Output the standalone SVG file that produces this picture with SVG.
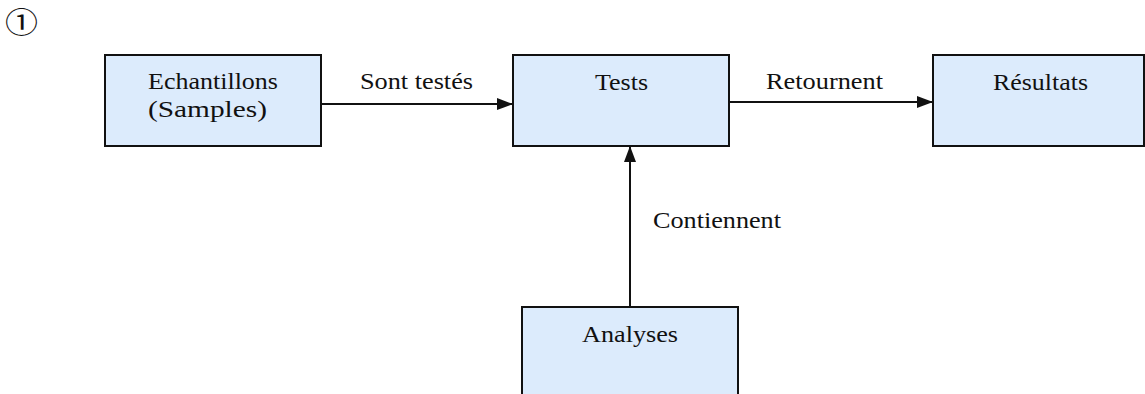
<svg xmlns="http://www.w3.org/2000/svg" width="1145" height="394" viewBox="0 0 1145 394">
<style>
.box{fill:#dcebfc;stroke:#111;stroke-width:2}
.t{font-family:"Liberation Serif","Times New Roman",serif;font-size:24px;fill:#111}
.edge{stroke:#111;stroke-width:2;fill:none;marker-end:url(#ah)}
</style>
<defs>
<marker id="ah" markerUnits="userSpaceOnUse" markerWidth="16" markerHeight="12" refX="16" refY="6" orient="auto">
<path d="M0,0 L16,6 L0,12 Z" fill="#111"/>
</marker>
</defs>
<rect width="1145" height="394" fill="#fff"/>
<text x="5" y="33" font-family="Noto Sans CJK JP, sans-serif" font-size="28" textLength="33" lengthAdjust="spacingAndGlyphs" fill="#111">①</text>
<g id="connectors">
<line class="edge" x1="321" y1="104" x2="513" y2="104"/>
<line class="edge" x1="729" y1="102" x2="933" y2="102"/>
<line class="edge" x1="630" y1="307" x2="630" y2="146"/>
<text class="t" x="360" y="89" textLength="113" lengthAdjust="spacingAndGlyphs">Sont testés</text>
<text class="t" x="766" y="89" textLength="117" lengthAdjust="spacingAndGlyphs">Retournent</text>
<text class="t" x="653" y="228" textLength="128" lengthAdjust="spacingAndGlyphs">Contiennent</text>
</g>
<g id="echantillons">
<rect class="box" x="105" y="55" width="216" height="91"/>
<text class="t" x="148" y="89" textLength="130" lengthAdjust="spacingAndGlyphs">Echantillons</text>
<text class="t" x="148" y="117" textLength="119" lengthAdjust="spacingAndGlyphs">(Samples)</text>
</g>
<g id="tests">
<rect class="box" x="513" y="55" width="216" height="91"/>
<text class="t" x="595" y="90" textLength="53" lengthAdjust="spacingAndGlyphs">Tests</text>
</g>
<g id="resultats">
<rect class="box" x="933" y="55" width="211" height="91"/>
<text class="t" x="993" y="90" textLength="95" lengthAdjust="spacingAndGlyphs">Résultats</text>
</g>
<g id="analyses">
<rect class="box" x="522" y="307" width="216" height="100"/>
<text class="t" x="582" y="342" textLength="96" lengthAdjust="spacingAndGlyphs">Analyses</text>
</g>
</svg>
